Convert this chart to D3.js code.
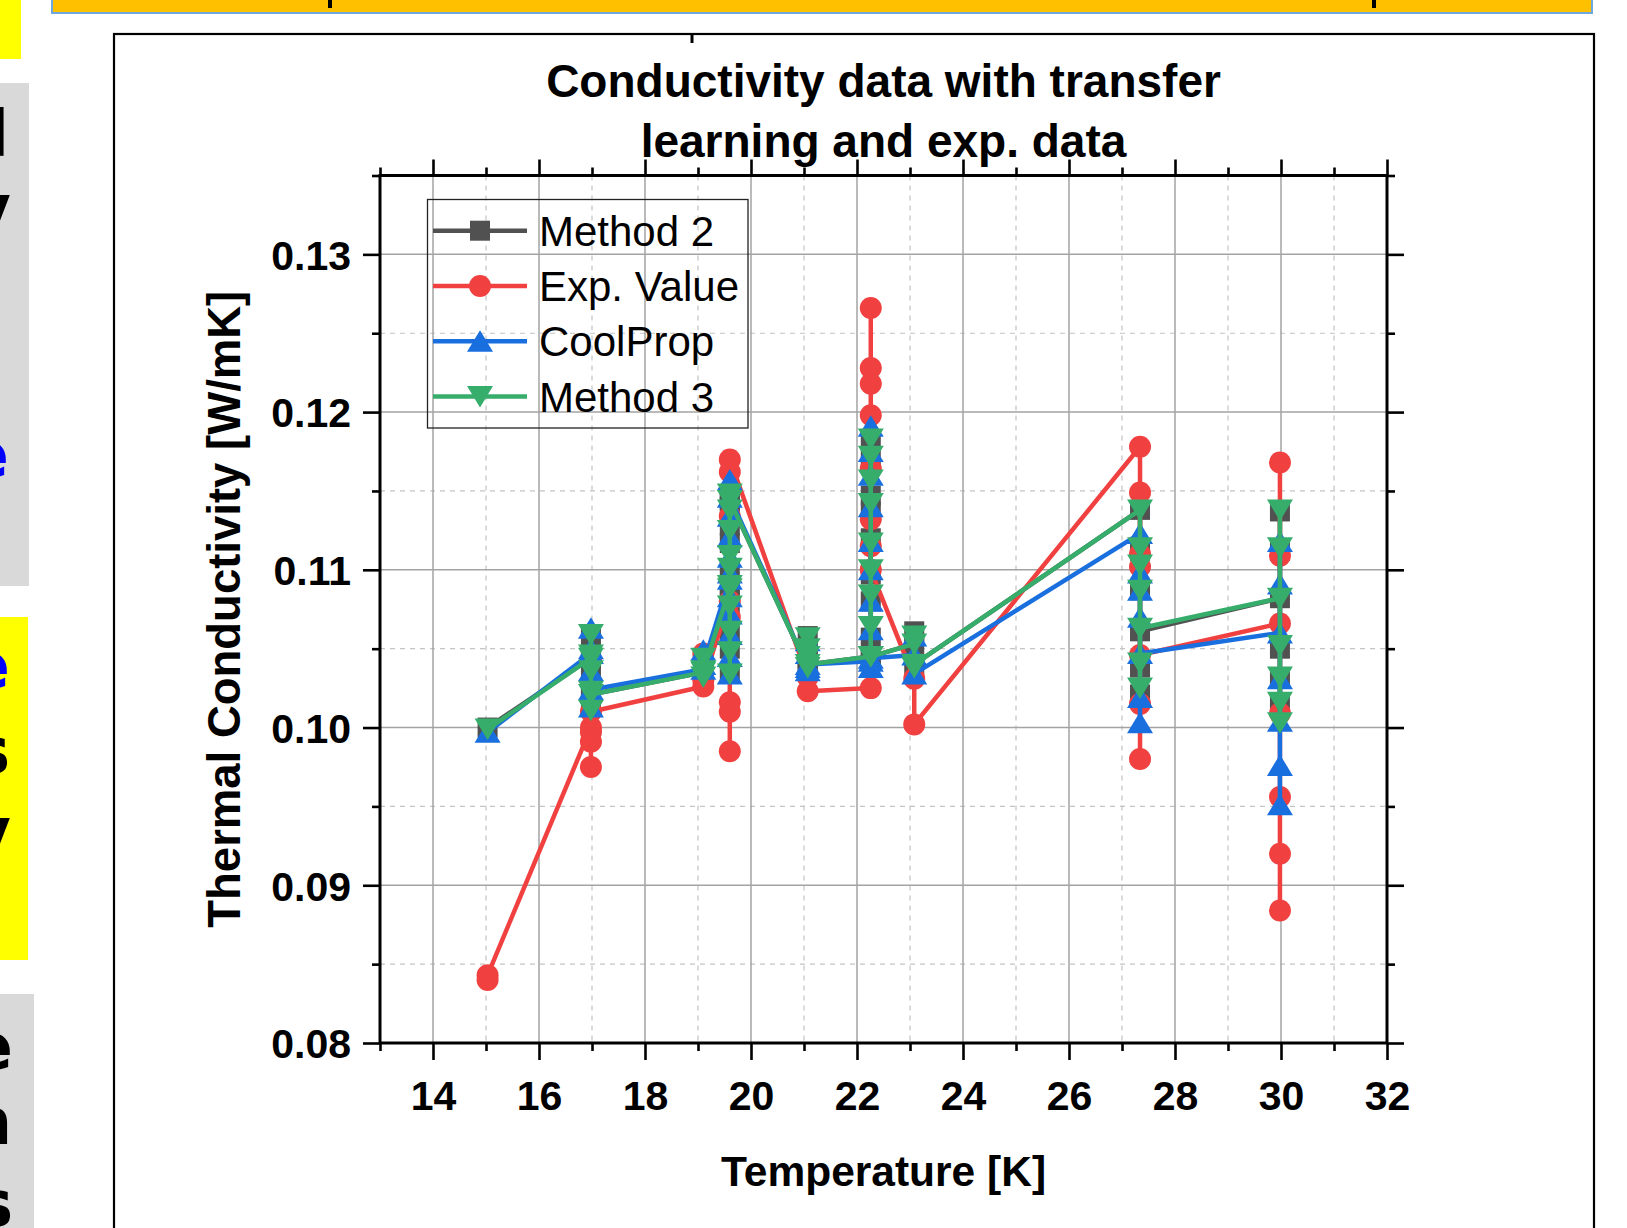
<!DOCTYPE html>
<html><head><meta charset="utf-8">
<script src="https://cdn.jsdelivr.net/npm/d3@7"></script>
<style>html,body{margin:0;padding:0;background:#fff;overflow:hidden}</style>
</head><body>
<svg id="chart" width="1627" height="1228"></svg>
<script>
// ---------- data ----------
const titleLines = ["Conductivity data with transfer", "learning and exp. data"];
const xLabel = "Temperature [K]";
const yLabel = "Thermal Conductivity [W/mK]";
const seriesNames = ["Method 2", "Exp. Value", "CoolProp", "Method 3"];
const seriesColors = ["#515151", "#F14040", "#1A6FDF", "#37AD6B"];
const xMajorTicks = [14, 16, 18, 20, 22, 24, 26, 28, 30, 32];
const xMinorTicks = [13, 15, 17, 19, 21, 23, 25, 27, 29, 31];
const yMajorTicks = [0.08, 0.09, 0.10, 0.11, 0.12, 0.13];
const yMinorTicks = [0.085, 0.095, 0.105, 0.115, 0.125, 0.135];

const method2 = [
  [15.03,0.1000],
  [16.98,0.1044],[16.98,0.1058],[16.98,0.1046],[16.98,0.1035],[16.98,0.1022],[16.98,0.1014],[16.98,0.1021],
  [19.10,0.1035],[19.10,0.1043],[19.10,0.1033],[19.10,0.1036],
  [19.60,0.1090],[19.60,0.1035],[19.60,0.1050],[19.60,0.1060],[19.60,0.1075],[19.60,0.1083],[19.60,0.1100],[19.60,0.1117],[19.60,0.1128],[19.60,0.1140],[19.60,0.1146],[19.60,0.1144],
  [21.07,0.1038],[21.07,0.1058],[21.07,0.1050],[21.07,0.1044],[21.07,0.1040],
  [22.26,0.1045],[22.26,0.1183],[22.26,0.1170],[22.26,0.1147],[22.26,0.1137],[22.26,0.1120],[22.26,0.1097],[22.26,0.1080],[22.26,0.1057],[22.26,0.1045],
  [23.08,0.1053],[23.08,0.1061],[23.08,0.1040],
  [27.34,0.1138],[27.34,0.1112],[27.34,0.1087],[27.34,0.1038],[27.34,0.1021],[27.34,0.1061],
  [29.98,0.1082],[29.98,0.1137],[29.98,0.1112],[29.98,0.1050],[29.98,0.1032],[29.98,0.1016]
];
const expValue = [
  [15.03,0.0840],[15.03,0.0843],
  [16.98,0.1000],[16.98,0.0975],[16.98,0.0991],[16.98,0.0997],[16.98,0.1043],[16.98,0.1010],
  [19.10,0.1026],[19.10,0.1047],[19.10,0.1030],
  [19.60,0.1080],[19.60,0.0985],[19.60,0.1010],[19.60,0.1016],[19.60,0.1070],[19.60,0.1134],[19.60,0.1162],[19.60,0.1170],
  [21.07,0.1032],[21.07,0.1023],
  [22.26,0.1025],[22.26,0.1115],[22.26,0.1132],[22.26,0.1164],[22.26,0.1198],[22.26,0.1218],[22.26,0.1228],[22.26,0.1266],[22.26,0.1100],
  [23.08,0.1031],[23.08,0.1002],
  [27.34,0.1178],[27.34,0.1149],[27.34,0.1110],[27.34,0.1102],[27.34,0.1015],[27.34,0.0980],[27.34,0.1046],
  [29.98,0.1066],[29.98,0.1168],[29.98,0.1109],[29.98,0.1009],[29.98,0.0956],[29.98,0.0920],[29.98,0.0884]
];
const coolProp = [
  [15.03,0.0997],
  [16.98,0.1047],[16.98,0.1063],[16.98,0.1050],[16.98,0.1036],[16.98,0.1013],[16.98,0.1024],
  [19.10,0.1037],[19.10,0.1049],[19.10,0.1040],
  [19.60,0.1094],[19.60,0.1034],[19.60,0.1045],[19.60,0.1059],[19.60,0.1072],[19.60,0.1083],[19.60,0.1098],[19.60,0.1108],[19.60,0.1121],[19.60,0.1134],[19.60,0.1157],[19.60,0.1146],
  [21.07,0.1038],[21.07,0.1055],[21.07,0.1047],[21.07,0.1036],[21.07,0.1040],
  [22.26,0.1042],[22.26,0.1191],[22.26,0.1175],[22.26,0.1160],[22.26,0.1140],[22.26,0.1118],[22.26,0.1100],[22.26,0.1080],[22.26,0.1062],[22.26,0.1038],[22.26,0.1044],
  [23.08,0.1046],[23.08,0.1058],[23.08,0.1034],
  [27.34,0.1123],[27.34,0.1098],[27.34,0.1087],[27.34,0.1070],[27.34,0.1019],[27.34,0.1003],[27.34,0.1047],
  [29.98,0.1060],[29.98,0.1118],[29.98,0.1091],[29.98,0.1031],[29.98,0.1004],[29.98,0.0976],[29.98,0.0951]
];
const method3 = [
  [15.03,0.0999],
  [16.98,0.1044],[16.98,0.1059],[16.98,0.1046],[16.98,0.1036],[16.98,0.1023],[16.98,0.1011],[16.98,0.1021],
  [19.10,0.1035],[19.10,0.1044],[19.10,0.1032],[19.10,0.1036],
  [19.60,0.1088],[19.60,0.1034],[19.60,0.1048],[19.60,0.1061],[19.60,0.1077],[19.60,0.1090],[19.60,0.1101],[19.60,0.1109],[19.60,0.1125],[19.60,0.1138],[19.60,0.1148],[19.60,0.1144],
  [21.07,0.1038],[21.07,0.1057],[21.07,0.1050],[21.07,0.1045],[21.07,0.1040],
  [22.26,0.1045],[22.26,0.1183],[22.26,0.1172],[22.26,0.1157],[22.26,0.1142],[22.26,0.1117],[22.26,0.1100],[22.26,0.1084],[22.26,0.1064],[22.26,0.1045],
  [23.08,0.1053],[23.08,0.1058],[23.08,0.1038],[23.08,0.1040],
  [27.34,0.1138],[27.34,0.1114],[27.34,0.1103],[27.34,0.1087],[27.34,0.1041],[27.34,0.1025],[27.34,0.1063],
  [29.98,0.1082],[29.98,0.1138],[29.98,0.1114],[29.98,0.1052],[29.98,0.1032],[29.98,0.1016],[29.98,0.1003]
];
const seriesData = [method2, expValue, coolProp, method3];

// ---------- drawing ----------
const FONT = "'Liberation Sans', Arial, Helvetica, sans-serif";
const svg = d3.select("#chart");
const M = {left: 380, right: 1387, top: 175.5, bottom: 1043};
const x = d3.scaleLinear().domain([13, 32]).range([M.left, M.right]);
const y = d3.scaleLinear().domain([0.08, 0.135]).range([M.bottom, M.top]);

// page decoration (poster context)
const deco = svg.append("g");
deco.append("rect").attr("x", 52).attr("y", -3).attr("width", 1540).attr("height", 16)
  .attr("fill", "#FFC000").attr("stroke", "#6FA8DC").attr("stroke-width", 2);
deco.append("rect").attr("x", 328).attr("y", 0).attr("width", 4).attr("height", 8).attr("fill", "#000");
deco.append("rect").attr("x", 1372).attr("y", 0).attr("width", 4).attr("height", 8).attr("fill", "#000");
deco.append("rect").attr("x", 0).attr("y", 0).attr("width", 21).attr("height", 59).attr("fill", "#FFFF00");
deco.append("rect").attr("x", 0).attr("y", 83).attr("width", 29).attr("height", 503).attr("fill", "#D9D9D9");
deco.append("rect").attr("x", 0).attr("y", 617).attr("width", 28).attr("height", 343).attr("fill", "#FFFF00");
deco.append("rect").attr("x", 0).attr("y", 994).attr("width", 34).attr("height", 240).attr("fill", "#D9D9D9");
const sideFrag = [
  ["l", 9, 156, "#000"], ["y", 11, 230, "#000"], ["e", 9, 477, "#0000FF"],
  ["e", 10, 688, "#0000FF"], ["s", 10, 773, "#000"], ["y", 11, 853, "#000"],
  ["e", 13, 1069, "#000"], ["n", 12, 1144, "#000"], ["s", 13, 1226, "#000"]
];
deco.selectAll("text.side").data(sideFrag).join("text").attr("class", "side")
  .attr("x", d => d[1]).attr("y", d => d[2]).attr("text-anchor", "end")
  .attr("font-family", "'DejaVu Sans', Verdana, sans-serif").attr("font-weight", "bold")
  .attr("font-size", 64).attr("fill", d => d[3]).text(d => d[0]);
deco.append("rect").attr("x", 114).attr("y", 34).attr("width", 1480).attr("height", 1220)
  .attr("fill", "none").attr("stroke", "#000").attr("stroke-width", 2.2);
deco.append("line").attr("x1", 692).attr("x2", 692).attr("y1", 34).attr("y2", 43)
  .attr("stroke", "#000").attr("stroke-width", 3);

// grid
const grid = svg.append("g");
grid.selectAll("line.vmin").data(xMinorTicks.filter(d => d > 13)).join("line").attr("class", "vmin")
  .attr("x1", d => x(d)).attr("x2", d => x(d)).attr("y1", M.top).attr("y2", M.bottom)
  .attr("stroke", "#c4c4c4").attr("stroke-width", 1.2).attr("stroke-dasharray", "5,5");
grid.selectAll("line.hmin").data(yMinorTicks.filter(d => d < 0.135)).join("line").attr("class", "hmin")
  .attr("y1", d => y(d)).attr("y2", d => y(d)).attr("x1", M.left).attr("x2", M.right)
  .attr("stroke", "#c4c4c4").attr("stroke-width", 1.2).attr("stroke-dasharray", "5,5");
grid.selectAll("line.vmaj").data(xMajorTicks.filter(d => d < 32)).join("line").attr("class", "vmaj")
  .attr("x1", d => x(d)).attr("x2", d => x(d)).attr("y1", M.top).attr("y2", M.bottom)
  .attr("stroke", "#a3a3a3").attr("stroke-width", 1.5);
grid.selectAll("line.hmaj").data(yMajorTicks.filter(d => d > 0.08)).join("line").attr("class", "hmaj")
  .attr("y1", d => y(d)).attr("y2", d => y(d)).attr("x1", M.left).attr("x2", M.right)
  .attr("stroke", "#a3a3a3").attr("stroke-width", 1.5);

// axes
function styleAxis(g) {
  g.select(".domain").remove();
  g.selectAll(".tick line").attr("stroke", "#000").attr("stroke-width", 2.6);
  g.attr("font-family", FONT).attr("font-size", 41).attr("font-weight", "bold");
}
const axes = svg.append("g");
axes.append("g").attr("transform", `translate(0,${M.bottom})`)
  .call(d3.axisBottom(x).tickValues(xMajorTicks).tickSize(17).tickFormat(d3.format("d")))
  .call(styleAxis)
  .call(g => g.selectAll("text").attr("y", 67).attr("dy", "0").attr("fill", "#000"));
axes.append("g").attr("transform", `translate(0,${M.bottom})`)
  .call(d3.axisBottom(x).tickValues(xMinorTicks).tickSize(8).tickFormat(""))
  .call(styleAxis);
axes.append("g").attr("transform", `translate(0,${M.top})`)
  .call(d3.axisTop(x).tickValues(xMajorTicks).tickSize(16).tickFormat(""))
  .call(styleAxis);
axes.append("g").attr("transform", `translate(0,${M.top})`)
  .call(d3.axisTop(x).tickValues(xMinorTicks).tickSize(8).tickFormat(""))
  .call(styleAxis);
axes.append("g").attr("transform", `translate(${M.left},0)`)
  .call(d3.axisLeft(y).tickValues(yMajorTicks).tickSize(17).tickFormat(d3.format(".2f")))
  .call(styleAxis)
  .call(g => g.selectAll("text").attr("x", -29).attr("dy", "0.36em").attr("fill", "#000"));
axes.append("g").attr("transform", `translate(${M.left},0)`)
  .call(d3.axisLeft(y).tickValues(yMinorTicks).tickSize(8).tickFormat(""))
  .call(styleAxis);
axes.append("g").attr("transform", `translate(${M.right},0)`)
  .call(d3.axisRight(y).tickValues(yMajorTicks).tickSize(17).tickFormat(""))
  .call(styleAxis);
axes.append("g").attr("transform", `translate(${M.right},0)`)
  .call(d3.axisRight(y).tickValues(yMinorTicks).tickSize(8).tickFormat(""))
  .call(styleAxis);
axes.append("rect").attr("x", M.left).attr("y", M.top).attr("width", M.right - M.left)
  .attr("height", M.bottom - M.top).attr("fill", "none").attr("stroke", "#000").attr("stroke-width", 3);

// titles
svg.append("g").selectAll("text").data(titleLines).join("text")
  .attr("x", (M.left + M.right) / 2).attr("y", (d, i) => 96.5 + i * 60)
  .attr("text-anchor", "middle").attr("font-family", FONT).attr("font-weight", "bold")
  .attr("font-size", 46).attr("fill", "#000").text(d => d);
svg.append("text").attr("x", (M.left + M.right) / 2).attr("y", 1186)
  .attr("text-anchor", "middle").attr("font-family", FONT).attr("font-weight", "bold")
  .attr("font-size", 42.5).attr("fill", "#000").text(xLabel);
svg.append("text").attr("transform", `translate(240,${(M.top + M.bottom) / 2}) rotate(-90)`)
  .attr("text-anchor", "middle").attr("font-family", FONT).attr("font-weight", "bold")
  .attr("font-size", 45.5).attr("fill", "#000").text(yLabel);

// markers
const shapes = ["square", "circle", "triUp", "triDown"];
function drawMarker(sel, shape, color) {
  if (shape === "square") {
    sel.append("rect").attr("x", -10).attr("y", -10).attr("width", 20).attr("height", 20).attr("fill", color);
  } else if (shape === "circle") {
    sel.append("circle").attr("r", 11).attr("fill", color);
  } else if (shape === "triUp") {
    sel.append("path").attr("d", "M0,-11L13,10.5L-13,10.5Z").attr("fill", color);
  } else {
    sel.append("path").attr("d", "M-13,-10.5L13,-10.5L0,11Z").attr("fill", color);
  }
}

// series
const line = d3.line().x(d => x(d[0])).y(d => y(d[1]));
const plot = svg.append("g");
seriesData.forEach((data, i) => {
  const g = plot.append("g");
  g.append("path").datum(data).attr("d", line).attr("fill", "none")
    .attr("stroke", seriesColors[i]).attr("stroke-width", 4.5).attr("stroke-linejoin", "round");
  g.selectAll("g.pt").data(data).join("g").attr("class", "pt")
    .attr("transform", d => `translate(${x(d[0])},${y(d[1])})`)
    .each(function () { drawMarker(d3.select(this), shapes[i], seriesColors[i]); });
});

// legend
const leg = svg.append("g");
leg.append("rect").attr("x", 427.5).attr("y", 199.5).attr("width", 320.5).attr("height", 228.5)
  .attr("fill", "none").attr("stroke", "#222").attr("stroke-width", 1.3);
seriesNames.forEach((name, i) => {
  const row = leg.append("g").attr("transform", `translate(0,${230.7 + i * 55.3})`);
  row.append("line").attr("x1", 433).attr("x2", 527).attr("y1", 0).attr("y2", 0)
    .attr("stroke", seriesColors[i]).attr("stroke-width", 4.5);
  drawMarker(row.append("g").attr("transform", "translate(480,0)"), shapes[i], seriesColors[i]);
  row.append("text").attr("x", 539).attr("y", 15).attr("font-family", FONT)
    .attr("font-size", 42).attr("fill", "#000").text(name);
});
</script>
</body></html>
